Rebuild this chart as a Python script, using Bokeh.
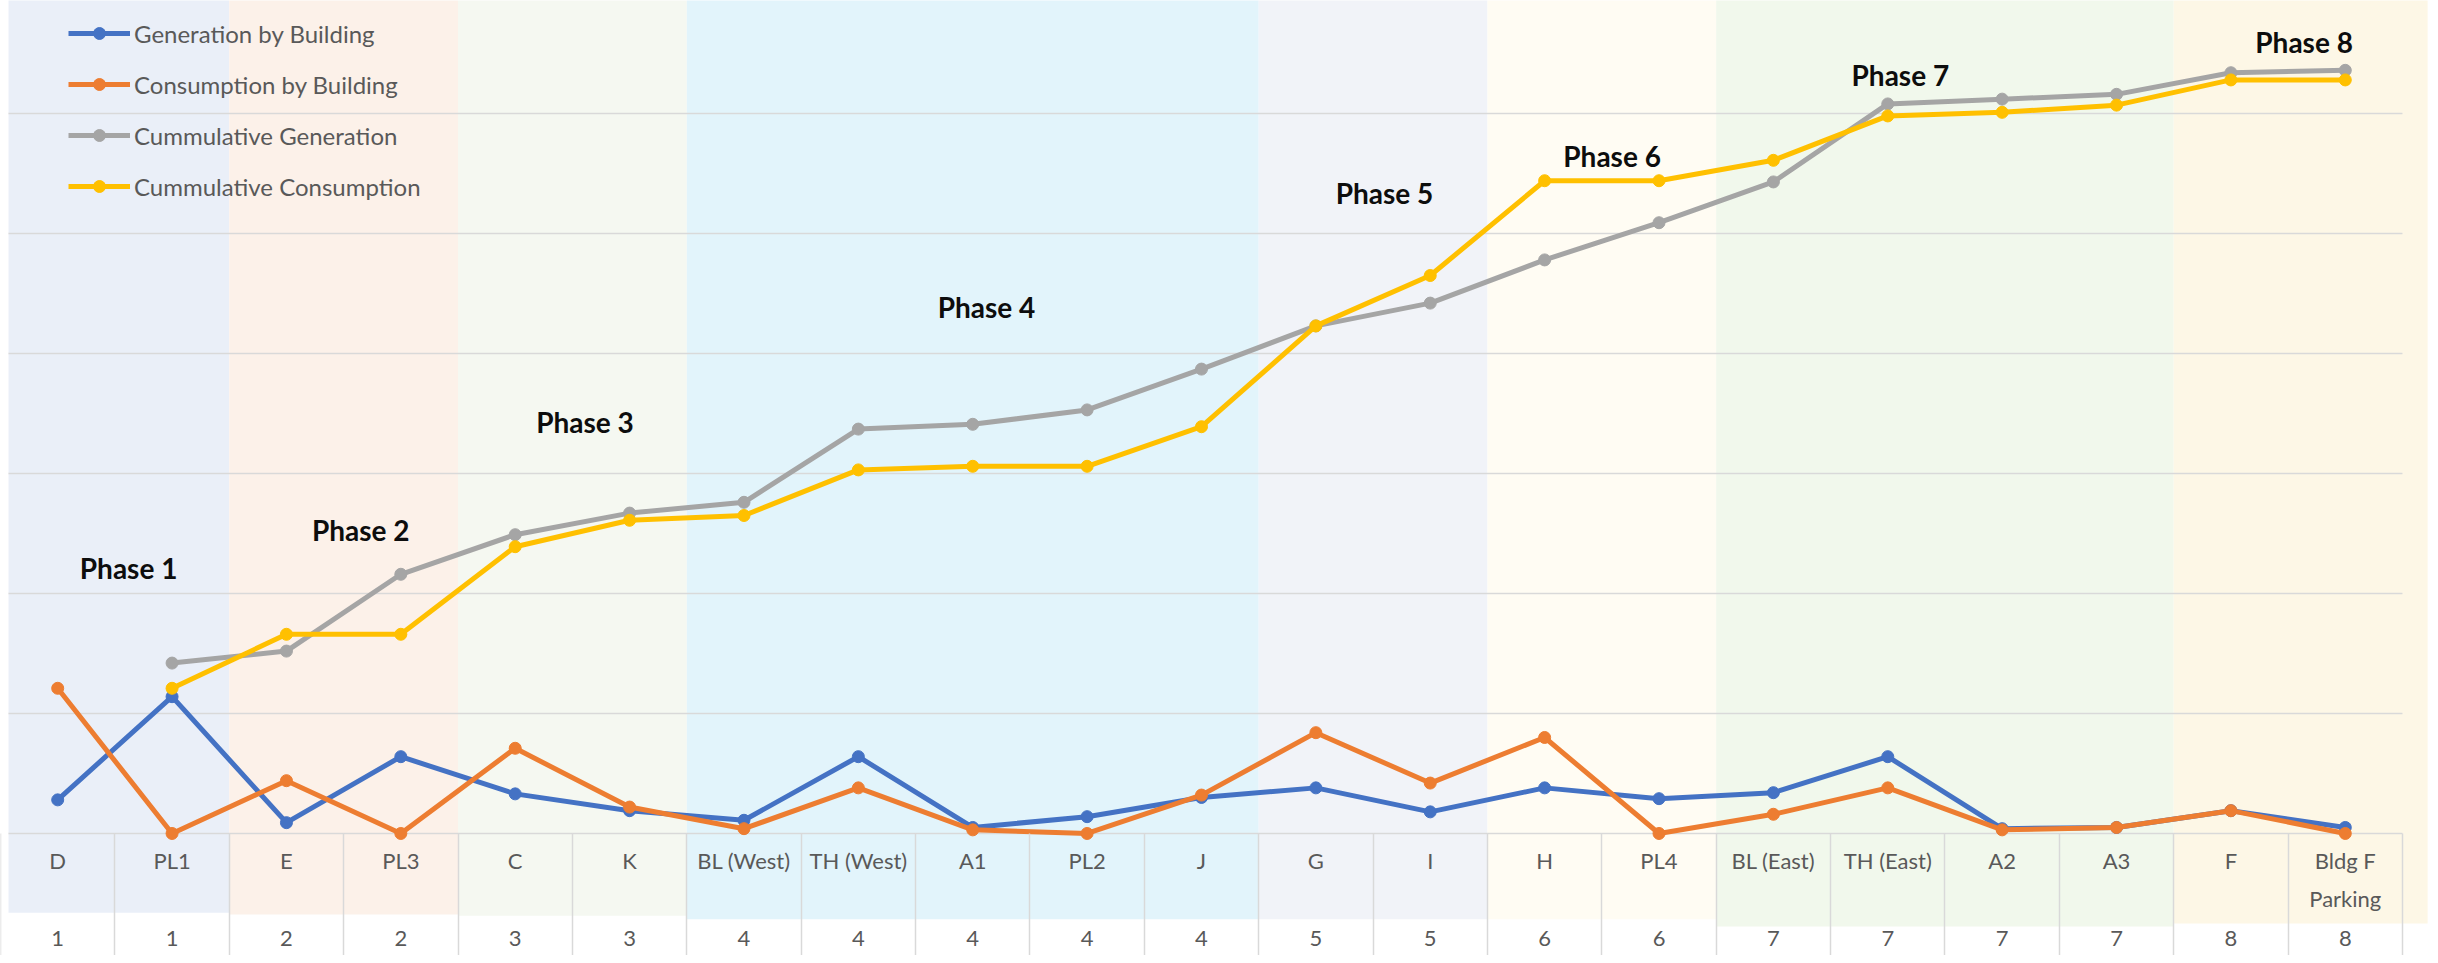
import numpy as np
from bokeh.plotting import figure
from bokeh.models import Range1d, LinearAxis, FixedTicker, Legend, LegendItem
from bokeh.core.properties import value
from bokeh.embed import file_html
from bokeh.resources import INLINE

# ---------------- data ----------------
buildings = ["D", "PL1", "E", "PL3", "C", "K", "BL (West)", "TH (West)", "A1", "PL2", "J",
             "G", "I", "H", "PL4", "BL (East)", "TH (East)", "A2", "A3", "F", "Bldg F\nParking"]
phases = [1, 1, 2, 2, 3, 3, 4, 4, 4, 4, 4, 5, 5, 6, 6, 7, 7, 7, 7, 8, 8]
generation = [28, 114, 9, 64, 33, 19, 11, 64, 5, 14, 30, 38, 18, 38, 29, 34, 64, 4, 5, 19, 5]
consumption = [121, 0, 44, 0, 71, 22, 4, 38, 3, 0, 32, 84, 42, 80, 0, 16, 38, 3, 5, 19, 0]
cum_generation = [np.nan, 142, 152, 216, 249, 267, 276, 337, 341, 353, 387, 423, 442, 478, 509,
                  543, 608, 612, 616, 634, 636]
cum_consumption = [np.nan, 121, 166, 166, 239, 261, 265, 303, 306, 306, 339, 423, 465, 544, 544,
                   561, 598, 601, 607, 628, 628]
phase_names = ["Phase 1", "Phase 2", "Phase 3", "Phase 4", "Phase 5", "Phase 6", "Phase 7", "Phase 8"]
grid_levels = [0, 100, 200, 300, 400, 500, 600]

# ---------------- styles / positions ----------------
phase_colors = ["#EAEFF8", "#FCF1E9", "#F5F8F1", "#E2F4FB", "#F1F3F8", "#FFFCF3", "#F1F8EC", "#FDF7E6"]
band_bottom = [-66, -67.5, -68.5, -71.5, -71.5, -71.5, -77.5, -75]
label_x = [1.12, 3.15, 5.11, 8.62, 12.10, 14.09, 16.61, 20.14]
label_y = [221, 253, 343, 439, 534, 565, 632, 660]
series_colors = ["#4472C4", "#ED7D31", "#A5A5A5", "#FFC000"]
series_names = ["Generation by Building", "Consumption by Building",
                "Cummulative Generation", "Cummulative Consumption"]
TXT = "#595959"
GRID = "#D9D9D9"

n = len(buildings)
xc = [i + 0.5 for i in range(n)]

p = figure(width=2430, height=955,
           x_range=Range1d(0.0, 21.245), y_range=Range1d(-101.7, 694.2),
           x_axis_location=None, y_axis_location=None,
           output_backend="svg", toolbar_location=None, min_border=0,
           background_fill_color="white", border_fill_color="white",
           outline_line_color=None)
p.grid.visible = False

# phase bands
ph = np.array(phases)
lefts, rights = [], []
for k in range(1, len(phase_names) + 1):
    idx = np.where(ph == k)[0]
    lefts.append(float(idx.min()))
    rights.append(float(idx.max() + 1))
lefts[0] += 0.07
rights[-1] += 0.22
p.quad(left=lefts, right=rights, bottom=band_bottom, top=[800] * len(lefts),
       fill_color=phase_colors, line_color=None)

# gridlines
p.segment(x0=[0.07] * len(grid_levels), x1=[n] * len(grid_levels), y0=grid_levels, y1=grid_levels,
          line_color=GRID, line_width=1.6)

# series
items = []
for vals, col, name in zip([generation, consumption, cum_generation, cum_consumption],
                           series_colors, series_names):
    l = p.line(xc, vals, line_color=col, line_width=5, line_join="round")
    s = p.scatter(xc, vals, size=12, fill_color=col, line_color=col)
    items.append(LegendItem(label=name, renderers=[l, s]))

# phase labels
p.text(x=label_x, y=label_y, text=phase_names, text_font=value("Lato"), text_font_style="bold",
       text_font_size="28px", text_align="center", text_baseline="middle", text_color="#0D0D0D")

# separator lines between categories (minor ticks of a label-less axis)
ax0 = LinearAxis(fixed_location=0,
                 ticker=FixedTicker(ticks=[], minor_ticks=list(range(n + 1))),
                 axis_line_color=None, major_tick_line_color=None, major_tick_out=0,
                 major_tick_in=0, major_label_text_alpha=0,
                 minor_tick_in=0, minor_tick_out=122, minor_tick_line_color=GRID,
                 minor_tick_line_width=1.5)
p.add_layout(ax0, "below")

# category axis (names)
ax1 = LinearAxis(fixed_location=0,
                 ticker=FixedTicker(ticks=xc, minor_ticks=[]),
                 major_label_overrides={float(x): b for x, b in zip(xc, buildings)},
                 axis_line_color=None, major_tick_in=0, major_tick_out=0,
                 minor_tick_in=0, minor_tick_out=0, minor_tick_line_color=None,
                 major_label_text_font="Lato", major_label_text_font_size="22px",
                 major_label_text_color=TXT, major_label_standoff=14,
                 major_label_text_line_height=1.4)
p.add_layout(ax1, "below")

# phase number row
ax2 = LinearAxis(fixed_location=0,
                 ticker=FixedTicker(ticks=xc, minor_ticks=[]),
                 major_label_overrides={float(x): str(k) for x, k in zip(xc, phases)},
                 axis_line_color=None, major_tick_in=0, major_tick_out=0,
                 minor_tick_in=0, minor_tick_out=0, minor_tick_line_color=None,
                 major_label_text_font="Lato", major_label_text_font_size="22px",
                 major_label_text_color=TXT, major_label_standoff=98)
p.add_layout(ax2, "below")

legend = Legend(items=items, location=(68, 754), glyph_width=62, glyph_height=30,
                label_height=30, spacing=21, padding=0, margin=0, label_standoff=4,
                label_text_font="Lato", label_text_font_size="24px", label_text_color=TXT,
                background_fill_alpha=0, border_line_alpha=0)
p.add_layout(legend)

open("out.html", "w").write(file_html(p, INLINE))
